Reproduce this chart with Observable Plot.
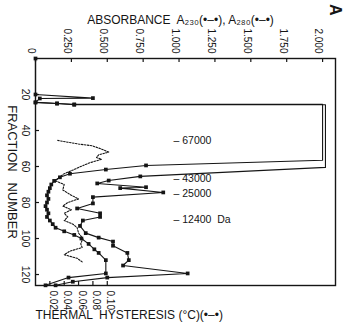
<!DOCTYPE html>
<html><head><meta charset="utf-8">
<script src="https://cdn.jsdelivr.net/npm/d3@7"></script>
<script src="https://cdn.jsdelivr.net/npm/@observablehq/plot@0.6"></script>
<style>body{margin:0;background:#fff}</style>
</head><body><div id="chart"></div>
<script>
// ---- tick labels ----
const absTicks = [0, 0.25, 0.5, 0.75, 1, 1.25, 1.5, 1.75, 2];
const fracTicks = [20, 40, 60, 80, 100, 120];
const hysTicks = [0.02, 0.04, 0.06, 0.08, 0.10];

// ---- A280 (fraction, absorbance); 2.0 = off scale ----
const fracA280 = [0, 20, 22, 22.2, 24.4, 25, 25.5, 25.5, 56.5, 59.4, 61.7, 64, 66, 68, 70, 72, 74, 76, 78, 80, 82, 84, 86, 88, 90, 92, 94, 96, 98, 100, 103, 106, 108, 112, 119.4, 121.7, 126];
const absA280  = [0, 0, 0.40, 0.03, 0.0, 0.15, 0.27, 2.0, 2.0, 0.77, 0.49, 0.24, 0.17, 0.13, 0.11, 0.10, 0.09, 0.08, 0.09, 0.08, 0.07, 0.08, 0.09, 0.08, 0.10, 0.12, 0.14, 0.20, 0.27, 0.32, 0.37, 0.41, 0.44, 0.49, 0.49, 0.23, 0.07];

// ---- A230 ----
const fracA230 = [24.4, 25, 25.7, 25.7, 60.5, 65.5, 67.8, 69.4, 71.5, 72, 74.4, 77, 80.5, 83.3, 86, 88, 90, 93, 97, 99.5, 101.7, 104, 108, 112, 115, 119.4, 121.7, 124, 126];
const absA230  = [0, 0.15, 0.27, 2.02, 2.02, 0.73, 0.51, 0.43, 0.77, 0.59, 0.89, 0.40, 0.40, 0.29, 0.45, 0.45, 0.33, 0.31, 0.35, 0.44, 0.54, 0.54, 0.64, 0.65, 0.61, 1.06, 0.50, 0.26, 0.14];

// ---- thermal hysteresis (°C) ----
const fracHys = [45.5, 46.5, 47.5, 48.5, 50, 52, 53.5, 55, 56, 58, 60, 62, 64, 66, 68, 70, 73, 76, 78, 80, 82, 84, 86, 88, 90, 92, 94, 97, 100, 103, 105, 107, 109, 111, 113];
const hysVal  = [0.031, 0.045, 0.060, 0.079, 0.090, 0.102, 0.088, 0.085, 0.092, 0.075, 0.063, 0.052, 0.040, 0.033, 0.028, 0.040, 0.038, 0.050, 0.060, 0.045, 0.038, 0.050, 0.040, 0.045, 0.040, 0.052, 0.058, 0.060, 0.066, 0.063, 0.065, 0.048, 0.040, 0.058, 0.065];

// ---- molecular weight markers ----
const mwLabels = ["– 67000", "– 43000", "– 25000", "– 12400  Da"];
const mwFrac = [45.5, 67, 75, 89.5];

const HYS_PER_ABS = 0.2; // 0.10 °C sits at absorbance 0.500

const pts = (F, V) => F.map((f, i) => ({f, v: V[i]}));
const a280 = pts(fracA280, absA280);
const a230 = pts(fracA230, absA230);
const hys = pts(fracHys, hysVal);
const mw = mwLabels.map((t, i) => ({t, f: mwFrac[i]}));

const ink = "#151515";
const W = 350, H = 326, mT = 58, mB = 41, mL = 35, mR = 15;
const innerH = H - mT - mB, innerW = W - mL - mR;

const chart = Plot.plot({
  width: W, height: H,
  marginTop: mT, marginBottom: mB, marginLeft: mL, marginRight: mR,
  style: {fontFamily: "'Liberation Sans', Arial, sans-serif", fontSize: "10px", background: "#fff", color: ink},
  x: {domain: [0, 2.09], axis: null},
  y: {domain: [0, 126.1], reverse: true, axis: null},
  marks: [
    Plot.frame({stroke: ink, strokeWidth: 1.4}),
    // inward ticks
    Plot.tickX(absTicks, {x: d => d, insetBottom: innerH - 4, stroke: ink, strokeWidth: 1.2}),
    Plot.tickY(fracTicks, {y: d => d, insetRight: innerW - 4, stroke: ink, strokeWidth: 1.2}),
    Plot.tickX(hysTicks, {x: d => d / HYS_PER_ABS, insetTop: innerH - 4, stroke: ink, strokeWidth: 1.2}),
    // tick labels
    Plot.text(absTicks, {x: d => d, frameAnchor: "top", dy: -5, rotate: 90, textAnchor: "end",
      text: d => d === 0 ? "0" : d.toFixed(3), fontSize: 10, fill: ink}),
    Plot.text(fracTicks, {y: d => d, frameAnchor: "left", dx: -10, rotate: 90, textAnchor: "middle",
      text: d => String(d), fontSize: 10.5, fill: ink}),
    Plot.text(hysTicks, {x: d => d / HYS_PER_ABS, frameAnchor: "bottom", dy: 5, rotate: 90, textAnchor: "start",
      text: d => d.toFixed(2), fontSize: 10, fill: ink}),
    // data
    Plot.line(hys, {x: d => d.v / HYS_PER_ABS, y: "f", stroke: ink, strokeWidth: 1.1, strokeDasharray: "1.6,1.4"}),
    Plot.line(a280, {x: "v", y: "f", stroke: ink, strokeWidth: 1.1}),
    Plot.line(a230, {x: "v", y: "f", stroke: ink, strokeWidth: 1.1}),
    Plot.dot(a280.filter(d => d.v < 1.9), {x: "v", y: "f", symbol: "square", r: 2.1, fill: ink, stroke: "none"}),
    Plot.dot(a230.filter(d => d.v < 1.9), {x: "v", y: "f", symbol: "square", r: 2.1, fill: ink, stroke: "none"}),
    // molecular weight labels
    Plot.text(mw, {y: "f", text: "t", frameAnchor: "left", dx: 138, textAnchor: "start", fontSize: 10.5, fill: ink}),
    // axis titles
    Plot.text(["ABSORBANCE  A₂₃₀(•–•), A₂₈₀(•–•)"], {frameAnchor: "top", dx: -5, dy: -43, fontSize: 12, fill: ink}),
    Plot.text(["THERMAL  HYSTERESIS (°C)(•–•)"], {frameAnchor: "bottom-left", dy: 33, textAnchor: "start", fontSize: 12, fill: ink}),
    Plot.text(["FRACTION   NUMBER"], {frameAnchor: "left", dx: -23, dy: 0, rotate: 90, textAnchor: "middle", fontSize: 13, fill: ink}),
    Plot.text(["A"], {frameAnchor: "top-right", dx: 6, dy: -43, rotate: 90, fontSize: 16, fontWeight: "bold", fill: ink})
  ]
});
document.getElementById("chart").append(chart);
</script>
</body></html>
